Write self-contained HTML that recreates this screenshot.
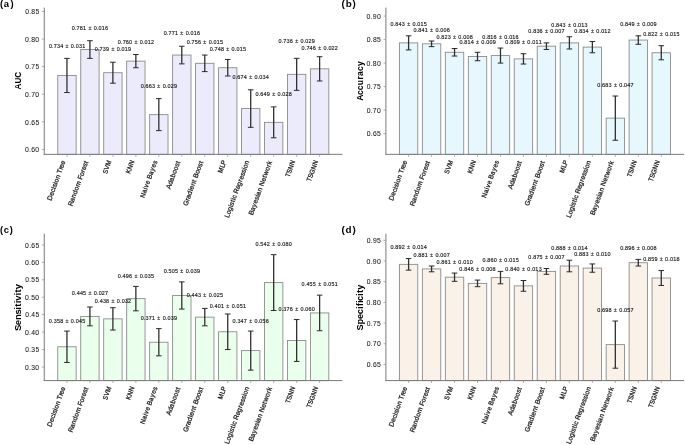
<!DOCTYPE html><html><head><meta charset="utf-8"><title>Model comparison</title><style>html,body{margin:0;padding:0;background:#fff;}svg text{stroke:#1a1a1a;stroke-width:0.15px;}svg text.b{stroke:none;}svg text.t{stroke-width:0.06px;}svg text.x{stroke-width:0.25px;}svg{display:block;will-change:transform;font-family:"Liberation Sans",sans-serif;}</style></head><body>
<svg width="685" height="445" viewBox="0 0 685 445">
<rect width="685" height="445" fill="#fff"/>
<g id="panel-a">
<rect x="57.76" y="75.46" width="18.38" height="78.89" fill="#EBEBFB" stroke="#8c8c8c" stroke-width="0.9"/>
<rect x="80.73" y="49.53" width="18.38" height="104.82" fill="#EBEBFB" stroke="#8c8c8c" stroke-width="0.9"/>
<rect x="103.7" y="72.7" width="18.38" height="81.65" fill="#EBEBFB" stroke="#8c8c8c" stroke-width="0.9"/>
<rect x="126.67" y="61.11" width="18.38" height="93.24" fill="#EBEBFB" stroke="#8c8c8c" stroke-width="0.9"/>
<rect x="149.64" y="114.63" width="18.38" height="39.72" fill="#EBEBFB" stroke="#8c8c8c" stroke-width="0.9"/>
<rect x="172.61" y="55.05" width="18.38" height="99.3" fill="#EBEBFB" stroke="#8c8c8c" stroke-width="0.9"/>
<rect x="195.58" y="63.32" width="18.38" height="91.03" fill="#EBEBFB" stroke="#8c8c8c" stroke-width="0.9"/>
<rect x="218.55" y="67.73" width="18.38" height="86.62" fill="#EBEBFB" stroke="#8c8c8c" stroke-width="0.9"/>
<rect x="241.52" y="108.56" width="18.38" height="45.79" fill="#EBEBFB" stroke="#8c8c8c" stroke-width="0.9"/>
<rect x="264.49" y="122.35" width="18.38" height="32" fill="#EBEBFB" stroke="#8c8c8c" stroke-width="0.9"/>
<rect x="287.46" y="74.35" width="18.38" height="80" fill="#EBEBFB" stroke="#8c8c8c" stroke-width="0.9"/>
<rect x="310.43" y="68.84" width="18.38" height="85.51" fill="#EBEBFB" stroke="#8c8c8c" stroke-width="0.9"/>
<line x1="66.95" y1="58.36" x2="66.95" y2="92.56" stroke="#303030" stroke-width="1.3"/>
<line x1="64.15" y1="58.36" x2="69.75" y2="58.36" stroke="#2a2a2a" stroke-width="1"/>
<line x1="64.15" y1="92.56" x2="69.75" y2="92.56" stroke="#2a2a2a" stroke-width="1"/>
<line x1="89.92" y1="40.7" x2="89.92" y2="58.36" stroke="#303030" stroke-width="1.3"/>
<line x1="87.12" y1="40.7" x2="92.72" y2="40.7" stroke="#2a2a2a" stroke-width="1"/>
<line x1="87.12" y1="58.36" x2="92.72" y2="58.36" stroke="#2a2a2a" stroke-width="1"/>
<line x1="112.89" y1="62.22" x2="112.89" y2="83.18" stroke="#303030" stroke-width="1.3"/>
<line x1="110.09" y1="62.22" x2="115.69" y2="62.22" stroke="#2a2a2a" stroke-width="1"/>
<line x1="110.09" y1="83.18" x2="115.69" y2="83.18" stroke="#2a2a2a" stroke-width="1"/>
<line x1="135.86" y1="54.49" x2="135.86" y2="67.73" stroke="#303030" stroke-width="1.3"/>
<line x1="133.06" y1="54.49" x2="138.66" y2="54.49" stroke="#2a2a2a" stroke-width="1"/>
<line x1="133.06" y1="67.73" x2="138.66" y2="67.73" stroke="#2a2a2a" stroke-width="1"/>
<line x1="158.83" y1="98.63" x2="158.83" y2="130.63" stroke="#303030" stroke-width="1.3"/>
<line x1="156.03" y1="98.63" x2="161.63" y2="98.63" stroke="#2a2a2a" stroke-width="1"/>
<line x1="156.03" y1="130.63" x2="161.63" y2="130.63" stroke="#2a2a2a" stroke-width="1"/>
<line x1="181.8" y1="46.22" x2="181.8" y2="63.87" stroke="#303030" stroke-width="1.3"/>
<line x1="179" y1="46.22" x2="184.6" y2="46.22" stroke="#2a2a2a" stroke-width="1"/>
<line x1="179" y1="63.87" x2="184.6" y2="63.87" stroke="#2a2a2a" stroke-width="1"/>
<line x1="204.77" y1="55.05" x2="204.77" y2="71.6" stroke="#303030" stroke-width="1.3"/>
<line x1="201.97" y1="55.05" x2="207.57" y2="55.05" stroke="#2a2a2a" stroke-width="1"/>
<line x1="201.97" y1="71.6" x2="207.57" y2="71.6" stroke="#2a2a2a" stroke-width="1"/>
<line x1="227.74" y1="59.46" x2="227.74" y2="76.01" stroke="#303030" stroke-width="1.3"/>
<line x1="224.94" y1="59.46" x2="230.54" y2="59.46" stroke="#2a2a2a" stroke-width="1"/>
<line x1="224.94" y1="76.01" x2="230.54" y2="76.01" stroke="#2a2a2a" stroke-width="1"/>
<line x1="250.71" y1="89.8" x2="250.71" y2="127.32" stroke="#303030" stroke-width="1.3"/>
<line x1="247.91" y1="89.8" x2="253.51" y2="89.8" stroke="#2a2a2a" stroke-width="1"/>
<line x1="247.91" y1="127.32" x2="253.51" y2="127.32" stroke="#2a2a2a" stroke-width="1"/>
<line x1="273.68" y1="106.9" x2="273.68" y2="137.8" stroke="#303030" stroke-width="1.3"/>
<line x1="270.88" y1="106.9" x2="276.48" y2="106.9" stroke="#2a2a2a" stroke-width="1"/>
<line x1="270.88" y1="137.8" x2="276.48" y2="137.8" stroke="#2a2a2a" stroke-width="1"/>
<line x1="296.65" y1="58.36" x2="296.65" y2="90.35" stroke="#303030" stroke-width="1.3"/>
<line x1="293.85" y1="58.36" x2="299.45" y2="58.36" stroke="#2a2a2a" stroke-width="1"/>
<line x1="293.85" y1="90.35" x2="299.45" y2="90.35" stroke="#2a2a2a" stroke-width="1"/>
<line x1="319.62" y1="56.7" x2="319.62" y2="80.97" stroke="#303030" stroke-width="1.3"/>
<line x1="316.82" y1="56.7" x2="322.42" y2="56.7" stroke="#2a2a2a" stroke-width="1"/>
<line x1="316.82" y1="80.97" x2="322.42" y2="80.97" stroke="#2a2a2a" stroke-width="1"/>
<line x1="44.25" y1="7.6" x2="44.25" y2="154.85" stroke="#7a7a7a" stroke-width="1"/>
<line x1="43.75" y1="154.35" x2="342.4" y2="154.35" stroke="#7a7a7a" stroke-width="1"/>
<line x1="41.85" y1="149.38" x2="44.25" y2="149.38" stroke="#999" stroke-width="0.8"/>
<text transform="translate(25.23,152.08) scale(0.994,1)" x="-0.29 3.81 5.96 10.12" y="0" font-size="6.96" class="t" fill="#1a1a1a">0.60</text>
<line x1="41.85" y1="121.8" x2="44.25" y2="121.8" stroke="#999" stroke-width="0.8"/>
<text transform="translate(25.36,124.5) scale(0.979,1)" x="-0.26 3.88 6.08 10.28" y="0" font-size="6.96" class="t" fill="#1a1a1a">0.65</text>
<line x1="41.85" y1="94.22" x2="44.25" y2="94.22" stroke="#999" stroke-width="0.8"/>
<text transform="translate(25.23,96.92) scale(0.980,1)" x="-0.26 3.88 6.07 10.29" y="0" font-size="6.96" class="t" fill="#1a1a1a">0.70</text>
<line x1="41.85" y1="66.63" x2="44.25" y2="66.63" stroke="#999" stroke-width="0.8"/>
<text transform="translate(25.36,69.33) scale(0.965,1)" x="-0.24 3.95 6.19 10.46" y="0" font-size="6.96" class="t" fill="#1a1a1a">0.75</text>
<line x1="41.85" y1="39.05" x2="44.25" y2="39.05" stroke="#999" stroke-width="0.8"/>
<text transform="translate(25.23,41.75) scale(0.988,1)" x="-0.28 3.84 6.01 10.18" y="0" font-size="6.96" class="t" fill="#1a1a1a">0.80</text>
<line x1="41.85" y1="11.46" x2="44.25" y2="11.46" stroke="#999" stroke-width="0.8"/>
<text transform="translate(25.36,14.16) scale(0.974,1)" x="-0.25 3.91 6.12 10.35" y="0" font-size="6.96" class="t" fill="#1a1a1a">0.85</text>
<line x1="66.95" y1="154.35" x2="66.95" y2="156.75" stroke="#999" stroke-width="0.8"/>
<text transform="translate(51.48,200.39) rotate(-70) scale(0.986,1)" x="-0.63 4.38 8.21 11.89 13.53 17 18.69 22.69 26.67 28.51 32.84 34.31 38.11" y="0" font-size="6.83" class="x" fill="#1a1a1a">Decision Tree</text>
<line x1="89.92" y1="154.35" x2="89.92" y2="156.75" stroke="#999" stroke-width="0.8"/>
<text transform="translate(72.51,205.71) rotate(-70) scale(0.986,1)" x="-0.77 3.64 7.74 11.75 15.77 19.91 25.93 27.63 31.63 35.56 37.97 41.69 45.31" y="0" font-size="6.83" class="x" fill="#1a1a1a">Random Forest</text>
<line x1="112.89" y1="154.35" x2="112.89" y2="156.75" stroke="#999" stroke-width="0.8"/>
<text transform="translate(107.09,173.81) rotate(-70) scale(0.895,1)" x="-0.46 4.14 9.03" y="0" font-size="6.83" class="x" fill="#1a1a1a">SVM</text>
<line x1="135.86" y1="154.35" x2="135.86" y2="156.75" stroke="#999" stroke-width="0.8"/>
<text transform="translate(130.2,173.44) rotate(-70) scale(0.921,1)" x="-0.54 3.92 9.04" y="0" font-size="6.83" class="x" fill="#1a1a1a">KNN</text>
<line x1="158.83" y1="154.35" x2="158.83" y2="156.75" stroke="#999" stroke-width="0.8"/>
<text transform="translate(144.35,197.65) rotate(-70) scale(0.929,1)" x="-0.59 4.35 8.77 10.77 14.68 18.79 20.85 25.4 29.94 33.85 37.94" y="0" font-size="6.83" class="x" fill="#1a1a1a">Naive Bayes</text>
<line x1="181.8" y1="154.35" x2="181.8" y2="156.75" stroke="#999" stroke-width="0.8"/>
<text transform="translate(170.33,189.4) rotate(-70) scale(0.981,1)" x="-0.13 4.45 8.14 12.42 16.39 20.32 24.2 27.83" y="0" font-size="6.83" class="x" fill="#1a1a1a">Adaboost</text>
<line x1="204.77" y1="154.35" x2="204.77" y2="156.75" stroke="#999" stroke-width="0.8"/>
<text transform="translate(187.34,205.77) rotate(-70) scale(1.006,1)" x="-0.57 4.78 6.87 10.99 15.03 16.7 20.61 24.75 26.99 28.79 33.26 37.09 40.88 44.44" y="0" font-size="6.83" class="x" fill="#1a1a1a">Gradient Boost</text>
<line x1="227.74" y1="154.35" x2="227.74" y2="156.75" stroke="#999" stroke-width="0.8"/>
<text transform="translate(222.22,173.05) rotate(-70) scale(0.900,1)" x="-0.5 5.58 9.23" y="0" font-size="6.83" class="x" fill="#1a1a1a">MLP</text>
<line x1="250.71" y1="154.35" x2="250.71" y2="156.75" stroke="#999" stroke-width="0.8"/>
<text transform="translate(228.97,217.61) rotate(-70) scale(0.980,1)" x="-0.6 3.02 6.88 11 12.66 16.29 18.66 20.29 23.91 25.75 30.44 34.12 38.41 40.84 44.58 47.93 51.4 53.12 57.13" y="0" font-size="6.83" class="x" fill="#1a1a1a">Logistic Regression</text>
<line x1="273.68" y1="154.35" x2="273.68" y2="156.75" stroke="#999" stroke-width="0.8"/>
<text transform="translate(252.95,214.82) rotate(-70) scale(0.977,1)" x="-0.71 3.63 7.96 11.67 15.57 19.05 20.53 24.81 28.82 30.74 35.72 39.9 42.3 47.48 51.67 54.22" y="0" font-size="6.83" class="x" fill="#1a1a1a">Bayesian Network</text>
<line x1="296.65" y1="154.35" x2="296.65" y2="156.75" stroke="#999" stroke-width="0.8"/>
<text transform="translate(289.5,177.51) rotate(-70) scale(0.916,1)" x="0.04 4.16 8.7 13.84" y="0" font-size="6.83" class="x" fill="#1a1a1a">TSNN</text>
<line x1="319.62" y1="154.35" x2="319.62" y2="156.75" stroke="#999" stroke-width="0.8"/>
<text transform="translate(310.8,182.1) rotate(-70) scale(0.913,1)" x="0.05 4.18 8.63 14.08 19.24" y="0" font-size="6.83" class="x" fill="#1a1a1a">TSGNN</text>
<text transform="translate(49.1,47.6) scale(0.968,1)" x="-0.23 3.05 4.77 8.11 11.43 14.71 16.98 20.76 22.48 25.76 27.47 30.82 34.12" y="0" font-size="5.56" fill="#1a1a1a">0.734 ± 0.031</text>
<text transform="translate(72,29.7) scale(0.974,1)" x="-0.24 3.03 4.73 8.05 11.34 14.62 16.87 20.63 22.34 25.6 27.3 30.6 33.93" y="0" font-size="5.56" fill="#1a1a1a">0.781 ± 0.016</text>
<text transform="translate(94.99,51.2) scale(0.977,1)" x="-0.24 3.02 4.71 8.03 11.3 14.57 16.82 20.57 22.27 25.53 27.22 30.51 33.81" y="0" font-size="5.56" fill="#1a1a1a">0.739 ± 0.019</text>
<text transform="translate(118.03,43.9) scale(0.975,1)" x="-0.24 3.02 4.72 8.04 11.34 14.6 16.85 20.62 22.32 25.58 27.28 30.57 33.84" y="0" font-size="5.56" fill="#1a1a1a">0.760 ± 0.012</text>
<text transform="translate(140.93,87.8) scale(0.983,1)" x="-0.25 2.99 4.68 7.96 11.25 14.48 16.7 20.44 22.12 25.36 27.04 30.26 33.58" y="0" font-size="5.56" fill="#1a1a1a">0.663 ± 0.029</text>
<text transform="translate(163.88,35.2) scale(0.971,1)" x="-0.23 3.04 4.75 8.07 11.38 14.67 16.92 20.7 22.41 25.68 27.39 30.7 34.04" y="0" font-size="5.56" fill="#1a1a1a">0.771 ± 0.016</text>
<text transform="translate(186.9,43.9) scale(0.967,1)" x="-0.23 3.05 4.77 8.09 11.45 14.72 16.99 20.78 22.5 25.78 27.5 30.82 34.16" y="0" font-size="5.56" fill="#1a1a1a">0.756 ± 0.015</text>
<text transform="translate(209.87,50.7) scale(0.970,1)" x="-0.23 3.04 4.75 8.08 11.41 14.67 16.94 20.71 22.42 25.7 27.41 30.71 34.04" y="0" font-size="5.56" fill="#1a1a1a">0.748 ± 0.015</text>
<text transform="translate(232.77,78.9) scale(0.978,1)" x="-0.24 3.01 4.71 8 11.3 14.55 16.79 20.54 22.24 25.49 27.18 30.49 33.78" y="0" font-size="5.56" fill="#1a1a1a">0.674 ± 0.034</text>
<text transform="translate(255.77,95.7) scale(0.984,1)" x="-0.25 2.99 4.67 7.94 11.2 14.46 16.68 20.41 22.09 25.32 27 30.22 33.56" y="0" font-size="5.56" fill="#1a1a1a">0.649 ± 0.028</text>
<text transform="translate(278.75,42.7) scale(0.978,1)" x="-0.24 3.01 4.7 8.02 11.31 14.55 16.79 20.54 22.24 25.49 27.18 30.42 33.76" y="0" font-size="5.56" fill="#1a1a1a">0.736 ± 0.029</text>
<text transform="translate(301.79,50.2) scale(0.976,1)" x="-0.24 3.02 4.72 8.02 11.33 14.59 16.83 20.59 22.29 25.55 27.25 30.49 33.8" y="0" font-size="5.56" fill="#1a1a1a">0.746 ± 0.022</text>
<text transform="translate(20.85,89.63) rotate(-90) scale(0.984,1)" x="0.05 6.33 12.1" y="0" font-size="8.27" font-weight="bold" class="b" fill="#000">AUC</text>
<text transform="translate(0.35,6.7) scale(1.062,1)" x="-0.45 3.29 9.64" y="0" font-size="8.92" font-weight="bold" class="b" fill="#000">(a)</text>
</g>
<g id="panel-b">
<rect x="399.41" y="42.88" width="18.38" height="111.47" fill="#E6F7FD" stroke="#8c8c8c" stroke-width="0.9"/>
<rect x="422.38" y="43.82" width="18.38" height="110.53" fill="#E6F7FD" stroke="#8c8c8c" stroke-width="0.9"/>
<rect x="445.35" y="52.28" width="18.38" height="102.07" fill="#E6F7FD" stroke="#8c8c8c" stroke-width="0.9"/>
<rect x="468.32" y="56.52" width="18.38" height="97.83" fill="#E6F7FD" stroke="#8c8c8c" stroke-width="0.9"/>
<rect x="491.29" y="55.58" width="18.38" height="98.77" fill="#E6F7FD" stroke="#8c8c8c" stroke-width="0.9"/>
<rect x="514.26" y="58.87" width="18.38" height="95.48" fill="#E6F7FD" stroke="#8c8c8c" stroke-width="0.9"/>
<rect x="537.23" y="46.17" width="18.38" height="108.18" fill="#E6F7FD" stroke="#8c8c8c" stroke-width="0.9"/>
<rect x="560.2" y="42.88" width="18.38" height="111.47" fill="#E6F7FD" stroke="#8c8c8c" stroke-width="0.9"/>
<rect x="583.17" y="47.11" width="18.38" height="107.24" fill="#E6F7FD" stroke="#8c8c8c" stroke-width="0.9"/>
<rect x="606.14" y="118.13" width="18.38" height="36.22" fill="#E6F7FD" stroke="#8c8c8c" stroke-width="0.9"/>
<rect x="629.11" y="40.05" width="18.38" height="114.3" fill="#E6F7FD" stroke="#8c8c8c" stroke-width="0.9"/>
<rect x="652.08" y="52.75" width="18.38" height="101.6" fill="#E6F7FD" stroke="#8c8c8c" stroke-width="0.9"/>
<line x1="408.6" y1="35.82" x2="408.6" y2="49.93" stroke="#303030" stroke-width="1.3"/>
<line x1="405.8" y1="35.82" x2="411.4" y2="35.82" stroke="#2a2a2a" stroke-width="1"/>
<line x1="405.8" y1="49.93" x2="411.4" y2="49.93" stroke="#2a2a2a" stroke-width="1"/>
<line x1="431.57" y1="41" x2="431.57" y2="46.64" stroke="#303030" stroke-width="1.3"/>
<line x1="428.77" y1="41" x2="434.37" y2="41" stroke="#2a2a2a" stroke-width="1"/>
<line x1="428.77" y1="46.64" x2="434.37" y2="46.64" stroke="#2a2a2a" stroke-width="1"/>
<line x1="454.54" y1="48.52" x2="454.54" y2="56.05" stroke="#303030" stroke-width="1.3"/>
<line x1="451.74" y1="48.52" x2="457.34" y2="48.52" stroke="#2a2a2a" stroke-width="1"/>
<line x1="451.74" y1="56.05" x2="457.34" y2="56.05" stroke="#2a2a2a" stroke-width="1"/>
<line x1="477.51" y1="52.28" x2="477.51" y2="60.75" stroke="#303030" stroke-width="1.3"/>
<line x1="474.71" y1="52.28" x2="480.31" y2="52.28" stroke="#2a2a2a" stroke-width="1"/>
<line x1="474.71" y1="60.75" x2="480.31" y2="60.75" stroke="#2a2a2a" stroke-width="1"/>
<line x1="500.48" y1="48.05" x2="500.48" y2="63.1" stroke="#303030" stroke-width="1.3"/>
<line x1="497.68" y1="48.05" x2="503.28" y2="48.05" stroke="#2a2a2a" stroke-width="1"/>
<line x1="497.68" y1="63.1" x2="503.28" y2="63.1" stroke="#2a2a2a" stroke-width="1"/>
<line x1="523.45" y1="53.69" x2="523.45" y2="64.04" stroke="#303030" stroke-width="1.3"/>
<line x1="520.65" y1="53.69" x2="526.25" y2="53.69" stroke="#2a2a2a" stroke-width="1"/>
<line x1="520.65" y1="64.04" x2="526.25" y2="64.04" stroke="#2a2a2a" stroke-width="1"/>
<line x1="546.42" y1="42.88" x2="546.42" y2="49.46" stroke="#303030" stroke-width="1.3"/>
<line x1="543.62" y1="42.88" x2="549.22" y2="42.88" stroke="#2a2a2a" stroke-width="1"/>
<line x1="543.62" y1="49.46" x2="549.22" y2="49.46" stroke="#2a2a2a" stroke-width="1"/>
<line x1="569.39" y1="36.76" x2="569.39" y2="48.99" stroke="#303030" stroke-width="1.3"/>
<line x1="566.59" y1="36.76" x2="572.19" y2="36.76" stroke="#2a2a2a" stroke-width="1"/>
<line x1="566.59" y1="48.99" x2="572.19" y2="48.99" stroke="#2a2a2a" stroke-width="1"/>
<line x1="592.36" y1="41.47" x2="592.36" y2="52.75" stroke="#303030" stroke-width="1.3"/>
<line x1="589.56" y1="41.47" x2="595.16" y2="41.47" stroke="#2a2a2a" stroke-width="1"/>
<line x1="589.56" y1="52.75" x2="595.16" y2="52.75" stroke="#2a2a2a" stroke-width="1"/>
<line x1="615.33" y1="96.03" x2="615.33" y2="140.24" stroke="#303030" stroke-width="1.3"/>
<line x1="612.53" y1="96.03" x2="618.13" y2="96.03" stroke="#2a2a2a" stroke-width="1"/>
<line x1="612.53" y1="140.24" x2="618.13" y2="140.24" stroke="#2a2a2a" stroke-width="1"/>
<line x1="638.3" y1="35.82" x2="638.3" y2="44.29" stroke="#303030" stroke-width="1.3"/>
<line x1="635.5" y1="35.82" x2="641.1" y2="35.82" stroke="#2a2a2a" stroke-width="1"/>
<line x1="635.5" y1="44.29" x2="641.1" y2="44.29" stroke="#2a2a2a" stroke-width="1"/>
<line x1="661.27" y1="45.7" x2="661.27" y2="59.81" stroke="#303030" stroke-width="1.3"/>
<line x1="658.47" y1="45.7" x2="664.07" y2="45.7" stroke="#2a2a2a" stroke-width="1"/>
<line x1="658.47" y1="59.81" x2="664.07" y2="59.81" stroke="#2a2a2a" stroke-width="1"/>
<line x1="385.9" y1="7.6" x2="385.9" y2="154.85" stroke="#7a7a7a" stroke-width="1"/>
<line x1="385.4" y1="154.35" x2="684.05" y2="154.35" stroke="#7a7a7a" stroke-width="1"/>
<line x1="383.5" y1="133.65" x2="385.9" y2="133.65" stroke="#999" stroke-width="0.8"/>
<text transform="translate(367.01,136.35) scale(0.979,1)" x="-0.26 3.88 6.08 10.28" y="0" font-size="6.96" class="t" fill="#1a1a1a">0.65</text>
<line x1="383.5" y1="110.14" x2="385.9" y2="110.14" stroke="#999" stroke-width="0.8"/>
<text transform="translate(366.88,112.84) scale(0.980,1)" x="-0.26 3.88 6.07 10.29" y="0" font-size="6.96" class="t" fill="#1a1a1a">0.70</text>
<line x1="383.5" y1="86.62" x2="385.9" y2="86.62" stroke="#999" stroke-width="0.8"/>
<text transform="translate(367.01,89.32) scale(0.965,1)" x="-0.24 3.95 6.19 10.46" y="0" font-size="6.96" class="t" fill="#1a1a1a">0.75</text>
<line x1="383.5" y1="63.1" x2="385.9" y2="63.1" stroke="#999" stroke-width="0.8"/>
<text transform="translate(366.88,65.8) scale(0.988,1)" x="-0.28 3.84 6.01 10.18" y="0" font-size="6.96" class="t" fill="#1a1a1a">0.80</text>
<line x1="383.5" y1="39.58" x2="385.9" y2="39.58" stroke="#999" stroke-width="0.8"/>
<text transform="translate(367.01,42.28) scale(0.974,1)" x="-0.25 3.91 6.12 10.35" y="0" font-size="6.96" class="t" fill="#1a1a1a">0.85</text>
<line x1="383.5" y1="16.07" x2="385.9" y2="16.07" stroke="#999" stroke-width="0.8"/>
<text transform="translate(366.88,18.77) scale(0.994,1)" x="-0.29 3.81 5.93 10.12" y="0" font-size="6.96" class="t" fill="#1a1a1a">0.90</text>
<line x1="408.6" y1="154.35" x2="408.6" y2="156.75" stroke="#999" stroke-width="0.8"/>
<text transform="translate(393.13,200.39) rotate(-70) scale(0.986,1)" x="-0.63 4.38 8.21 11.89 13.53 17 18.69 22.69 26.67 28.51 32.84 34.31 38.11" y="0" font-size="6.83" class="x" fill="#1a1a1a">Decision Tree</text>
<line x1="431.57" y1="154.35" x2="431.57" y2="156.75" stroke="#999" stroke-width="0.8"/>
<text transform="translate(414.16,205.71) rotate(-70) scale(0.986,1)" x="-0.77 3.64 7.74 11.75 15.77 19.91 25.93 27.63 31.63 35.56 37.97 41.69 45.31" y="0" font-size="6.83" class="x" fill="#1a1a1a">Random Forest</text>
<line x1="454.54" y1="154.35" x2="454.54" y2="156.75" stroke="#999" stroke-width="0.8"/>
<text transform="translate(448.74,173.81) rotate(-70) scale(0.895,1)" x="-0.46 4.14 9.03" y="0" font-size="6.83" class="x" fill="#1a1a1a">SVM</text>
<line x1="477.51" y1="154.35" x2="477.51" y2="156.75" stroke="#999" stroke-width="0.8"/>
<text transform="translate(471.85,173.44) rotate(-70) scale(0.921,1)" x="-0.54 3.92 9.04" y="0" font-size="6.83" class="x" fill="#1a1a1a">KNN</text>
<line x1="500.48" y1="154.35" x2="500.48" y2="156.75" stroke="#999" stroke-width="0.8"/>
<text transform="translate(486,197.65) rotate(-70) scale(0.929,1)" x="-0.59 4.35 8.77 10.77 14.68 18.79 20.85 25.4 29.94 33.85 37.94" y="0" font-size="6.83" class="x" fill="#1a1a1a">Naive Bayes</text>
<line x1="523.45" y1="154.35" x2="523.45" y2="156.75" stroke="#999" stroke-width="0.8"/>
<text transform="translate(511.98,189.4) rotate(-70) scale(0.981,1)" x="-0.13 4.45 8.14 12.42 16.39 20.32 24.2 27.83" y="0" font-size="6.83" class="x" fill="#1a1a1a">Adaboost</text>
<line x1="546.42" y1="154.35" x2="546.42" y2="156.75" stroke="#999" stroke-width="0.8"/>
<text transform="translate(528.99,205.77) rotate(-70) scale(1.006,1)" x="-0.57 4.78 6.87 10.99 15.03 16.7 20.61 24.75 26.99 28.79 33.26 37.09 40.88 44.44" y="0" font-size="6.83" class="x" fill="#1a1a1a">Gradient Boost</text>
<line x1="569.39" y1="154.35" x2="569.39" y2="156.75" stroke="#999" stroke-width="0.8"/>
<text transform="translate(563.87,173.05) rotate(-70) scale(0.900,1)" x="-0.5 5.58 9.23" y="0" font-size="6.83" class="x" fill="#1a1a1a">MLP</text>
<line x1="592.36" y1="154.35" x2="592.36" y2="156.75" stroke="#999" stroke-width="0.8"/>
<text transform="translate(570.62,217.61) rotate(-70) scale(0.980,1)" x="-0.6 3.02 6.88 11 12.66 16.29 18.66 20.29 23.91 25.75 30.44 34.12 38.41 40.84 44.58 47.93 51.4 53.12 57.13" y="0" font-size="6.83" class="x" fill="#1a1a1a">Logistic Regression</text>
<line x1="615.33" y1="154.35" x2="615.33" y2="156.75" stroke="#999" stroke-width="0.8"/>
<text transform="translate(594.6,214.82) rotate(-70) scale(0.977,1)" x="-0.71 3.63 7.96 11.67 15.57 19.05 20.53 24.81 28.82 30.74 35.72 39.9 42.3 47.48 51.67 54.22" y="0" font-size="6.83" class="x" fill="#1a1a1a">Bayesian Network</text>
<line x1="638.3" y1="154.35" x2="638.3" y2="156.75" stroke="#999" stroke-width="0.8"/>
<text transform="translate(631.15,177.51) rotate(-70) scale(0.916,1)" x="0.04 4.16 8.7 13.84" y="0" font-size="6.83" class="x" fill="#1a1a1a">TSNN</text>
<line x1="661.27" y1="154.35" x2="661.27" y2="156.75" stroke="#999" stroke-width="0.8"/>
<text transform="translate(652.45,182.1) rotate(-70) scale(0.913,1)" x="0.05 4.18 8.63 14.08 19.24" y="0" font-size="6.83" class="x" fill="#1a1a1a">TSGNN</text>
<text transform="translate(390.73,26.4) scale(0.970,1)" x="-0.23 3.05 4.77 8.09 11.43 14.69 16.95 20.73 22.45 25.72 27.44 30.75 34.08" y="0" font-size="5.56" fill="#1a1a1a">0.843 ± 0.015</text>
<text transform="translate(413.65,31.5) scale(0.981,1)" x="-0.25 3 4.69 7.98 11.25 14.52 16.74 20.49 22.18 25.42 27.11 30.4 33.69" y="0" font-size="5.56" fill="#1a1a1a">0.841 ± 0.006</text>
<text transform="translate(436.63,39) scale(0.977,1)" x="-0.24 3.02 4.72 7.96 11.33 14.57 16.81 20.57 22.27 25.52 27.22 30.52 33.83" y="0" font-size="5.56" fill="#1a1a1a">0.823 ± 0.008</text>
<text transform="translate(459.61,44.1) scale(0.981,1)" x="-0.25 3 4.69 7.96 11.27 14.52 16.74 20.49 22.18 25.42 27.11 30.4 33.67" y="0" font-size="5.56" fill="#1a1a1a">0.814 ± 0.009</text>
<text transform="translate(482.56,38.5) scale(0.979,1)" x="-0.24 3.01 4.71 7.98 11.29 14.54 16.78 20.53 22.22 25.47 27.16 30.44 33.75" y="0" font-size="5.56" fill="#1a1a1a">0.816 ± 0.016</text>
<text transform="translate(505.6,44.1) scale(0.977,1)" x="-0.24 3.02 4.72 8.02 11.3 14.58 16.82 20.58 22.27 25.53 27.23 30.51 33.82" y="0" font-size="5.56" fill="#1a1a1a">0.809 ± 0.011</text>
<text transform="translate(528.55,33.4) scale(0.979,1)" x="-0.24 3.01 4.7 8.01 11.29 14.54 16.77 20.52 22.21 25.46 27.15 30.45 33.74" y="0" font-size="5.56" fill="#1a1a1a">0.836 ± 0.007</text>
<text transform="translate(551.51,27.3) scale(0.971,1)" x="-0.23 3.04 4.75 8.07 11.4 14.66 16.92 20.7 22.4 25.68 27.38 30.69 34.04" y="0" font-size="5.56" fill="#1a1a1a">0.843 ± 0.013</text>
<text transform="translate(574.53,33.4) scale(0.972,1)" x="-0.23 3.04 4.75 8.08 11.38 14.65 16.91 20.68 22.39 25.66 27.37 30.67 33.95" y="0" font-size="5.56" fill="#1a1a1a">0.834 ± 0.012</text>
<text transform="translate(597.46,87.1) scale(0.979,1)" x="-0.24 3.01 4.7 8 11.3 14.54 16.78 20.53 22.22 25.47 27.16 30.46 33.75" y="0" font-size="5.56" fill="#1a1a1a">0.683 ± 0.047</text>
<text transform="translate(620.4,26.4) scale(0.987,1)" x="-0.25 2.98 4.65 7.91 11.16 14.41 16.62 20.35 22.02 25.25 26.92 30.18 33.43" y="0" font-size="5.56" fill="#1a1a1a">0.849 ± 0.009</text>
<text transform="translate(643.4,36.2) scale(0.967,1)" x="-0.23 3.05 4.78 8.05 11.38 14.72 17 20.78 22.5 25.78 27.5 30.82 34.16" y="0" font-size="5.56" fill="#1a1a1a">0.822 ± 0.015</text>
<text transform="translate(362.5,100.71) rotate(-90) scale(1.032,1)" x="-0.09 5.61 10.09 14.93 20.5 23.85 28.78 33.6" y="0" font-size="8.27" font-weight="bold" class="b" fill="#000">Accuracy</text>
<text transform="translate(342,6.7) scale(1.103,1)" x="-0.5 3.34 9.57" y="0" font-size="8.92" font-weight="bold" class="b" fill="#000">(b)</text>
</g>
<g id="panel-c">
<rect x="57.76" y="346.77" width="18.38" height="33.83" fill="#EAFFEC" stroke="#8c8c8c" stroke-width="0.9"/>
<rect x="80.73" y="316.42" width="18.38" height="64.18" fill="#EAFFEC" stroke="#8c8c8c" stroke-width="0.9"/>
<rect x="103.7" y="318.86" width="18.38" height="61.74" fill="#EAFFEC" stroke="#8c8c8c" stroke-width="0.9"/>
<rect x="126.67" y="298.63" width="18.38" height="81.97" fill="#EAFFEC" stroke="#8c8c8c" stroke-width="0.9"/>
<rect x="149.64" y="342.23" width="18.38" height="38.37" fill="#EAFFEC" stroke="#8c8c8c" stroke-width="0.9"/>
<rect x="172.61" y="295.49" width="18.38" height="85.11" fill="#EAFFEC" stroke="#8c8c8c" stroke-width="0.9"/>
<rect x="195.58" y="317.12" width="18.38" height="63.48" fill="#EAFFEC" stroke="#8c8c8c" stroke-width="0.9"/>
<rect x="218.55" y="331.77" width="18.38" height="48.83" fill="#EAFFEC" stroke="#8c8c8c" stroke-width="0.9"/>
<rect x="241.52" y="350.6" width="18.38" height="30" fill="#EAFFEC" stroke="#8c8c8c" stroke-width="0.9"/>
<rect x="264.49" y="282.58" width="18.38" height="98.02" fill="#EAFFEC" stroke="#8c8c8c" stroke-width="0.9"/>
<rect x="287.46" y="340.49" width="18.38" height="40.11" fill="#EAFFEC" stroke="#8c8c8c" stroke-width="0.9"/>
<rect x="310.43" y="312.93" width="18.38" height="67.67" fill="#EAFFEC" stroke="#8c8c8c" stroke-width="0.9"/>
<line x1="66.95" y1="331.07" x2="66.95" y2="362.46" stroke="#303030" stroke-width="1.3"/>
<line x1="64.15" y1="331.07" x2="69.75" y2="331.07" stroke="#2a2a2a" stroke-width="1"/>
<line x1="64.15" y1="362.46" x2="69.75" y2="362.46" stroke="#2a2a2a" stroke-width="1"/>
<line x1="89.92" y1="307" x2="89.92" y2="325.84" stroke="#303030" stroke-width="1.3"/>
<line x1="87.12" y1="307" x2="92.72" y2="307" stroke="#2a2a2a" stroke-width="1"/>
<line x1="87.12" y1="325.84" x2="92.72" y2="325.84" stroke="#2a2a2a" stroke-width="1"/>
<line x1="112.89" y1="307.7" x2="112.89" y2="330.02" stroke="#303030" stroke-width="1.3"/>
<line x1="110.09" y1="307.7" x2="115.69" y2="307.7" stroke="#2a2a2a" stroke-width="1"/>
<line x1="110.09" y1="330.02" x2="115.69" y2="330.02" stroke="#2a2a2a" stroke-width="1"/>
<line x1="135.86" y1="286.42" x2="135.86" y2="310.84" stroke="#303030" stroke-width="1.3"/>
<line x1="133.06" y1="286.42" x2="138.66" y2="286.42" stroke="#2a2a2a" stroke-width="1"/>
<line x1="133.06" y1="310.84" x2="138.66" y2="310.84" stroke="#2a2a2a" stroke-width="1"/>
<line x1="158.83" y1="328.63" x2="158.83" y2="355.83" stroke="#303030" stroke-width="1.3"/>
<line x1="156.03" y1="328.63" x2="161.63" y2="328.63" stroke="#2a2a2a" stroke-width="1"/>
<line x1="156.03" y1="355.83" x2="161.63" y2="355.83" stroke="#2a2a2a" stroke-width="1"/>
<line x1="181.8" y1="281.89" x2="181.8" y2="309.09" stroke="#303030" stroke-width="1.3"/>
<line x1="179" y1="281.89" x2="184.6" y2="281.89" stroke="#2a2a2a" stroke-width="1"/>
<line x1="179" y1="309.09" x2="184.6" y2="309.09" stroke="#2a2a2a" stroke-width="1"/>
<line x1="204.77" y1="308.4" x2="204.77" y2="325.84" stroke="#303030" stroke-width="1.3"/>
<line x1="201.97" y1="308.4" x2="207.57" y2="308.4" stroke="#2a2a2a" stroke-width="1"/>
<line x1="201.97" y1="325.84" x2="207.57" y2="325.84" stroke="#2a2a2a" stroke-width="1"/>
<line x1="227.74" y1="313.98" x2="227.74" y2="349.56" stroke="#303030" stroke-width="1.3"/>
<line x1="224.94" y1="313.98" x2="230.54" y2="313.98" stroke="#2a2a2a" stroke-width="1"/>
<line x1="224.94" y1="349.56" x2="230.54" y2="349.56" stroke="#2a2a2a" stroke-width="1"/>
<line x1="250.71" y1="331.07" x2="250.71" y2="370.14" stroke="#303030" stroke-width="1.3"/>
<line x1="247.91" y1="331.07" x2="253.51" y2="331.07" stroke="#2a2a2a" stroke-width="1"/>
<line x1="247.91" y1="370.14" x2="253.51" y2="370.14" stroke="#2a2a2a" stroke-width="1"/>
<line x1="273.68" y1="254.68" x2="273.68" y2="310.49" stroke="#303030" stroke-width="1.3"/>
<line x1="270.88" y1="254.68" x2="276.48" y2="254.68" stroke="#2a2a2a" stroke-width="1"/>
<line x1="270.88" y1="310.49" x2="276.48" y2="310.49" stroke="#2a2a2a" stroke-width="1"/>
<line x1="296.65" y1="319.56" x2="296.65" y2="361.42" stroke="#303030" stroke-width="1.3"/>
<line x1="293.85" y1="319.56" x2="299.45" y2="319.56" stroke="#2a2a2a" stroke-width="1"/>
<line x1="293.85" y1="361.42" x2="299.45" y2="361.42" stroke="#2a2a2a" stroke-width="1"/>
<line x1="319.62" y1="295.14" x2="319.62" y2="330.72" stroke="#303030" stroke-width="1.3"/>
<line x1="316.82" y1="295.14" x2="322.42" y2="295.14" stroke="#2a2a2a" stroke-width="1"/>
<line x1="316.82" y1="330.72" x2="322.42" y2="330.72" stroke="#2a2a2a" stroke-width="1"/>
<line x1="44.25" y1="233.75" x2="44.25" y2="381.1" stroke="#7a7a7a" stroke-width="1"/>
<line x1="43.75" y1="380.6" x2="342.4" y2="380.6" stroke="#7a7a7a" stroke-width="1"/>
<line x1="41.85" y1="367" x2="44.25" y2="367" stroke="#999" stroke-width="0.8"/>
<text transform="translate(25.23,369.7) scale(0.977,1)" x="-0.26 3.89 6.11 10.32" y="0" font-size="6.96" class="t" fill="#1a1a1a">0.30</text>
<line x1="41.85" y1="349.56" x2="44.25" y2="349.56" stroke="#999" stroke-width="0.8"/>
<text transform="translate(25.36,352.26) scale(0.962,1)" x="-0.23 3.96 6.23 10.49" y="0" font-size="6.96" class="t" fill="#1a1a1a">0.35</text>
<line x1="41.85" y1="332.12" x2="44.25" y2="332.12" stroke="#999" stroke-width="0.8"/>
<text transform="translate(25.23,334.82) scale(0.986,1)" x="-0.27 3.85 6.02 10.21" y="0" font-size="6.96" class="t" fill="#1a1a1a">0.40</text>
<line x1="41.85" y1="314.67" x2="44.25" y2="314.67" stroke="#999" stroke-width="0.8"/>
<text transform="translate(25.36,317.37) scale(0.972,1)" x="-0.25 3.92 6.14 10.37" y="0" font-size="6.96" class="t" fill="#1a1a1a">0.45</text>
<line x1="41.85" y1="297.23" x2="44.25" y2="297.23" stroke="#999" stroke-width="0.8"/>
<text transform="translate(25.23,299.93) scale(0.972,1)" x="-0.25 3.92 6.11 10.38" y="0" font-size="6.96" class="t" fill="#1a1a1a">0.50</text>
<line x1="41.85" y1="279.79" x2="44.25" y2="279.79" stroke="#999" stroke-width="0.8"/>
<text transform="translate(25.36,282.49) scale(0.958,1)" x="-0.22 3.99 6.24 10.55" y="0" font-size="6.96" class="t" fill="#1a1a1a">0.55</text>
<line x1="41.85" y1="262.35" x2="44.25" y2="262.35" stroke="#999" stroke-width="0.8"/>
<text transform="translate(25.23,265.05) scale(0.994,1)" x="-0.29 3.81 5.96 10.12" y="0" font-size="6.96" class="t" fill="#1a1a1a">0.60</text>
<line x1="41.85" y1="244.91" x2="44.25" y2="244.91" stroke="#999" stroke-width="0.8"/>
<text transform="translate(25.36,247.61) scale(0.979,1)" x="-0.26 3.88 6.08 10.28" y="0" font-size="6.96" class="t" fill="#1a1a1a">0.65</text>
<line x1="66.95" y1="380.6" x2="66.95" y2="383" stroke="#999" stroke-width="0.8"/>
<text transform="translate(51.48,426.64) rotate(-70) scale(0.986,1)" x="-0.63 4.38 8.21 11.89 13.53 17 18.69 22.69 26.67 28.51 32.84 34.31 38.11" y="0" font-size="6.83" class="x" fill="#1a1a1a">Decision Tree</text>
<line x1="89.92" y1="380.6" x2="89.92" y2="383" stroke="#999" stroke-width="0.8"/>
<text transform="translate(72.51,431.96) rotate(-70) scale(0.986,1)" x="-0.77 3.64 7.74 11.75 15.77 19.91 25.93 27.63 31.63 35.56 37.97 41.69 45.31" y="0" font-size="6.83" class="x" fill="#1a1a1a">Random Forest</text>
<line x1="112.89" y1="380.6" x2="112.89" y2="383" stroke="#999" stroke-width="0.8"/>
<text transform="translate(107.09,400.06) rotate(-70) scale(0.895,1)" x="-0.46 4.14 9.03" y="0" font-size="6.83" class="x" fill="#1a1a1a">SVM</text>
<line x1="135.86" y1="380.6" x2="135.86" y2="383" stroke="#999" stroke-width="0.8"/>
<text transform="translate(130.2,399.69) rotate(-70) scale(0.921,1)" x="-0.54 3.92 9.04" y="0" font-size="6.83" class="x" fill="#1a1a1a">KNN</text>
<line x1="158.83" y1="380.6" x2="158.83" y2="383" stroke="#999" stroke-width="0.8"/>
<text transform="translate(144.35,423.9) rotate(-70) scale(0.929,1)" x="-0.59 4.35 8.77 10.77 14.68 18.79 20.85 25.4 29.94 33.85 37.94" y="0" font-size="6.83" class="x" fill="#1a1a1a">Naive Bayes</text>
<line x1="181.8" y1="380.6" x2="181.8" y2="383" stroke="#999" stroke-width="0.8"/>
<text transform="translate(170.33,415.65) rotate(-70) scale(0.981,1)" x="-0.13 4.45 8.14 12.42 16.39 20.32 24.2 27.83" y="0" font-size="6.83" class="x" fill="#1a1a1a">Adaboost</text>
<line x1="204.77" y1="380.6" x2="204.77" y2="383" stroke="#999" stroke-width="0.8"/>
<text transform="translate(187.34,432.02) rotate(-70) scale(1.006,1)" x="-0.57 4.78 6.87 10.99 15.03 16.7 20.61 24.75 26.99 28.79 33.26 37.09 40.88 44.44" y="0" font-size="6.83" class="x" fill="#1a1a1a">Gradient Boost</text>
<line x1="227.74" y1="380.6" x2="227.74" y2="383" stroke="#999" stroke-width="0.8"/>
<text transform="translate(222.22,399.3) rotate(-70) scale(0.900,1)" x="-0.5 5.58 9.23" y="0" font-size="6.83" class="x" fill="#1a1a1a">MLP</text>
<line x1="250.71" y1="380.6" x2="250.71" y2="383" stroke="#999" stroke-width="0.8"/>
<text transform="translate(228.97,443.86) rotate(-70) scale(0.980,1)" x="-0.6 3.02 6.88 11 12.66 16.29 18.66 20.29 23.91 25.75 30.44 34.12 38.41 40.84 44.58 47.93 51.4 53.12 57.13" y="0" font-size="6.83" class="x" fill="#1a1a1a">Logistic Regression</text>
<line x1="273.68" y1="380.6" x2="273.68" y2="383" stroke="#999" stroke-width="0.8"/>
<text transform="translate(252.95,441.07) rotate(-70) scale(0.977,1)" x="-0.71 3.63 7.96 11.67 15.57 19.05 20.53 24.81 28.82 30.74 35.72 39.9 42.3 47.48 51.67 54.22" y="0" font-size="6.83" class="x" fill="#1a1a1a">Bayesian Network</text>
<line x1="296.65" y1="380.6" x2="296.65" y2="383" stroke="#999" stroke-width="0.8"/>
<text transform="translate(289.5,403.76) rotate(-70) scale(0.916,1)" x="0.04 4.16 8.7 13.84" y="0" font-size="6.83" class="x" fill="#1a1a1a">TSNN</text>
<line x1="319.62" y1="380.6" x2="319.62" y2="383" stroke="#999" stroke-width="0.8"/>
<text transform="translate(310.8,408.35) rotate(-70) scale(0.913,1)" x="0.05 4.18 8.63 14.08 19.24" y="0" font-size="6.83" class="x" fill="#1a1a1a">TSGNN</text>
<text transform="translate(49.08,322.6) scale(0.969,1)" x="-0.23 3.05 4.78 8.08 11.43 14.7 16.97 20.75 22.47 25.75 27.46 30.8 34.11" y="0" font-size="5.56" fill="#1a1a1a">0.358 ± 0.045</text>
<text transform="translate(72.05,294.6) scale(0.971,1)" x="-0.23 3.04 4.75 8.07 11.38 14.67 16.92 20.7 22.41 25.68 27.39 30.65 34.04" y="0" font-size="5.56" fill="#1a1a1a">0.445 ± 0.027</text>
<text transform="translate(95.06,302.8) scale(0.973,1)" x="-0.23 3.03 4.74 8.07 11.38 14.64 16.89 20.67 22.37 25.64 27.34 30.68 33.92" y="0" font-size="5.56" fill="#1a1a1a">0.438 ± 0.032</text>
<text transform="translate(117.99,277.8) scale(0.978,1)" x="-0.24 3.01 4.71 7.98 11.31 14.55 16.79 20.55 22.24 25.49 27.18 30.5 33.77" y="0" font-size="5.56" fill="#1a1a1a">0.496 ± 0.035</text>
<text transform="translate(140.93,319.8) scale(0.971,1)" x="-0.23 3.04 4.76 8.07 11.38 14.67 16.93 20.7 22.41 25.69 27.4 30.73 34.02" y="0" font-size="5.56" fill="#1a1a1a">0.371 ± 0.039</text>
<text transform="translate(163.9,273.1) scale(0.971,1)" x="-0.23 3.04 4.74 8.07 11.38 14.67 16.93 20.71 22.42 25.69 27.4 30.74 34.03" y="0" font-size="5.56" fill="#1a1a1a">0.505 ± 0.039</text>
<text transform="translate(186.9,297.2) scale(0.970,1)" x="-0.23 3.04 4.76 8.08 11.42 14.68 16.94 20.72 22.43 25.71 27.42 30.69 34.06" y="0" font-size="5.56" fill="#1a1a1a">0.443 ± 0.025</text>
<text transform="translate(209.89,308.2) scale(0.968,1)" x="-0.23 3.05 4.77 8.1 11.41 14.71 16.98 20.76 22.48 25.76 27.48 30.8 34.12" y="0" font-size="5.56" fill="#1a1a1a">0.401 ± 0.051</text>
<text transform="translate(232.79,322.7) scale(0.973,1)" x="-0.24 3.03 4.75 8.05 11.37 14.63 16.88 20.65 22.36 25.62 27.33 30.63 33.96" y="0" font-size="5.56" fill="#1a1a1a">0.347 ± 0.056</text>
<text transform="translate(255.76,245.8) scale(0.974,1)" x="-0.24 3.03 4.72 8.04 11.29 14.61 16.86 20.63 22.33 25.59 27.29 30.61 33.92" y="0" font-size="5.56" fill="#1a1a1a">0.542 ± 0.080</text>
<text transform="translate(278.73,310.8) scale(0.981,1)" x="-0.25 3 4.7 7.97 11.27 14.51 16.74 20.48 22.17 25.41 27.1 30.39 33.67" y="0" font-size="5.56" fill="#1a1a1a">0.376 ± 0.060</text>
<text transform="translate(301.77,286.3) scale(0.962,1)" x="-0.22 3.08 4.81 8.15 11.5 14.81 17.1 20.9 22.63 25.93 27.66 31 34.35" y="0" font-size="5.56" fill="#1a1a1a">0.455 ± 0.051</text>
<text transform="translate(20.85,330.19) rotate(-90) scale(1.148,1)" x="-0.76 4.36 8.91 13.62 17.91 20.44 23.49 25.72 30.25 32.78 35.7" y="0" font-size="8.27" font-weight="bold" class="b" fill="#000">Sensitivity</text>
<text transform="translate(0.35,233.1) scale(1.044,1)" x="-0.43 3.18 9.11" y="0" font-size="8.92" font-weight="bold" class="b" fill="#000">(c)</text>
</g>
<g id="panel-d">
<rect x="399.41" y="264.36" width="18.38" height="116.24" fill="#FAF2E9" stroke="#8c8c8c" stroke-width="0.9"/>
<rect x="422.38" y="268.91" width="18.38" height="111.69" fill="#FAF2E9" stroke="#8c8c8c" stroke-width="0.9"/>
<rect x="445.35" y="277.18" width="18.38" height="103.42" fill="#FAF2E9" stroke="#8c8c8c" stroke-width="0.9"/>
<rect x="468.32" y="283.39" width="18.38" height="97.21" fill="#FAF2E9" stroke="#8c8c8c" stroke-width="0.9"/>
<rect x="491.29" y="277.6" width="18.38" height="103" fill="#FAF2E9" stroke="#8c8c8c" stroke-width="0.9"/>
<rect x="514.26" y="285.87" width="18.38" height="94.73" fill="#FAF2E9" stroke="#8c8c8c" stroke-width="0.9"/>
<rect x="537.23" y="271.39" width="18.38" height="109.21" fill="#FAF2E9" stroke="#8c8c8c" stroke-width="0.9"/>
<rect x="560.2" y="266.02" width="18.38" height="114.58" fill="#FAF2E9" stroke="#8c8c8c" stroke-width="0.9"/>
<rect x="583.17" y="268.08" width="18.38" height="112.52" fill="#FAF2E9" stroke="#8c8c8c" stroke-width="0.9"/>
<rect x="606.14" y="344.61" width="18.38" height="35.99" fill="#FAF2E9" stroke="#8c8c8c" stroke-width="0.9"/>
<rect x="629.11" y="262.71" width="18.38" height="117.89" fill="#FAF2E9" stroke="#8c8c8c" stroke-width="0.9"/>
<rect x="652.08" y="278.01" width="18.38" height="102.59" fill="#FAF2E9" stroke="#8c8c8c" stroke-width="0.9"/>
<line x1="408.6" y1="258.57" x2="408.6" y2="270.15" stroke="#303030" stroke-width="1.3"/>
<line x1="405.8" y1="258.57" x2="411.4" y2="258.57" stroke="#2a2a2a" stroke-width="1"/>
<line x1="405.8" y1="270.15" x2="411.4" y2="270.15" stroke="#2a2a2a" stroke-width="1"/>
<line x1="431.57" y1="266.02" x2="431.57" y2="271.81" stroke="#303030" stroke-width="1.3"/>
<line x1="428.77" y1="266.02" x2="434.37" y2="266.02" stroke="#2a2a2a" stroke-width="1"/>
<line x1="428.77" y1="271.81" x2="434.37" y2="271.81" stroke="#2a2a2a" stroke-width="1"/>
<line x1="454.54" y1="273.05" x2="454.54" y2="281.32" stroke="#303030" stroke-width="1.3"/>
<line x1="451.74" y1="273.05" x2="457.34" y2="273.05" stroke="#2a2a2a" stroke-width="1"/>
<line x1="451.74" y1="281.32" x2="457.34" y2="281.32" stroke="#2a2a2a" stroke-width="1"/>
<line x1="477.51" y1="280.08" x2="477.51" y2="286.7" stroke="#303030" stroke-width="1.3"/>
<line x1="474.71" y1="280.08" x2="480.31" y2="280.08" stroke="#2a2a2a" stroke-width="1"/>
<line x1="474.71" y1="286.7" x2="480.31" y2="286.7" stroke="#2a2a2a" stroke-width="1"/>
<line x1="500.48" y1="271.39" x2="500.48" y2="283.8" stroke="#303030" stroke-width="1.3"/>
<line x1="497.68" y1="271.39" x2="503.28" y2="271.39" stroke="#2a2a2a" stroke-width="1"/>
<line x1="497.68" y1="283.8" x2="503.28" y2="283.8" stroke="#2a2a2a" stroke-width="1"/>
<line x1="523.45" y1="280.49" x2="523.45" y2="291.25" stroke="#303030" stroke-width="1.3"/>
<line x1="520.65" y1="280.49" x2="526.25" y2="280.49" stroke="#2a2a2a" stroke-width="1"/>
<line x1="520.65" y1="291.25" x2="526.25" y2="291.25" stroke="#2a2a2a" stroke-width="1"/>
<line x1="546.42" y1="268.5" x2="546.42" y2="274.29" stroke="#303030" stroke-width="1.3"/>
<line x1="543.62" y1="268.5" x2="549.22" y2="268.5" stroke="#2a2a2a" stroke-width="1"/>
<line x1="543.62" y1="274.29" x2="549.22" y2="274.29" stroke="#2a2a2a" stroke-width="1"/>
<line x1="569.39" y1="260.22" x2="569.39" y2="271.81" stroke="#303030" stroke-width="1.3"/>
<line x1="566.59" y1="260.22" x2="572.19" y2="260.22" stroke="#2a2a2a" stroke-width="1"/>
<line x1="566.59" y1="271.81" x2="572.19" y2="271.81" stroke="#2a2a2a" stroke-width="1"/>
<line x1="592.36" y1="263.95" x2="592.36" y2="272.22" stroke="#303030" stroke-width="1.3"/>
<line x1="589.56" y1="263.95" x2="595.16" y2="263.95" stroke="#2a2a2a" stroke-width="1"/>
<line x1="589.56" y1="272.22" x2="595.16" y2="272.22" stroke="#2a2a2a" stroke-width="1"/>
<line x1="615.33" y1="321.03" x2="615.33" y2="368.19" stroke="#303030" stroke-width="1.3"/>
<line x1="612.53" y1="321.03" x2="618.13" y2="321.03" stroke="#2a2a2a" stroke-width="1"/>
<line x1="612.53" y1="368.19" x2="618.13" y2="368.19" stroke="#2a2a2a" stroke-width="1"/>
<line x1="638.3" y1="259.4" x2="638.3" y2="266.02" stroke="#303030" stroke-width="1.3"/>
<line x1="635.5" y1="259.4" x2="641.1" y2="259.4" stroke="#2a2a2a" stroke-width="1"/>
<line x1="635.5" y1="266.02" x2="641.1" y2="266.02" stroke="#2a2a2a" stroke-width="1"/>
<line x1="661.27" y1="270.57" x2="661.27" y2="285.46" stroke="#303030" stroke-width="1.3"/>
<line x1="658.47" y1="270.57" x2="664.07" y2="270.57" stroke="#2a2a2a" stroke-width="1"/>
<line x1="658.47" y1="285.46" x2="664.07" y2="285.46" stroke="#2a2a2a" stroke-width="1"/>
<line x1="385.9" y1="233.75" x2="385.9" y2="381.1" stroke="#7a7a7a" stroke-width="1"/>
<line x1="385.4" y1="380.6" x2="684.05" y2="380.6" stroke="#7a7a7a" stroke-width="1"/>
<line x1="383.5" y1="364.47" x2="385.9" y2="364.47" stroke="#999" stroke-width="0.8"/>
<text transform="translate(367.01,367.17) scale(0.979,1)" x="-0.26 3.88 6.08 10.28" y="0" font-size="6.96" class="t" fill="#1a1a1a">0.65</text>
<line x1="383.5" y1="343.78" x2="385.9" y2="343.78" stroke="#999" stroke-width="0.8"/>
<text transform="translate(366.88,346.48) scale(0.980,1)" x="-0.26 3.88 6.07 10.29" y="0" font-size="6.96" class="t" fill="#1a1a1a">0.70</text>
<line x1="383.5" y1="323.1" x2="385.9" y2="323.1" stroke="#999" stroke-width="0.8"/>
<text transform="translate(367.01,325.8) scale(0.965,1)" x="-0.24 3.95 6.19 10.46" y="0" font-size="6.96" class="t" fill="#1a1a1a">0.75</text>
<line x1="383.5" y1="302.42" x2="385.9" y2="302.42" stroke="#999" stroke-width="0.8"/>
<text transform="translate(366.88,305.12) scale(0.988,1)" x="-0.28 3.84 6.01 10.18" y="0" font-size="6.96" class="t" fill="#1a1a1a">0.80</text>
<line x1="383.5" y1="281.73" x2="385.9" y2="281.73" stroke="#999" stroke-width="0.8"/>
<text transform="translate(367.01,284.43) scale(0.974,1)" x="-0.25 3.91 6.12 10.35" y="0" font-size="6.96" class="t" fill="#1a1a1a">0.85</text>
<line x1="383.5" y1="261.05" x2="385.9" y2="261.05" stroke="#999" stroke-width="0.8"/>
<text transform="translate(366.88,263.75) scale(0.994,1)" x="-0.29 3.81 5.93 10.12" y="0" font-size="6.96" class="t" fill="#1a1a1a">0.90</text>
<line x1="383.5" y1="240.37" x2="385.9" y2="240.37" stroke="#999" stroke-width="0.8"/>
<text transform="translate(367.01,243.07) scale(0.979,1)" x="-0.26 3.88 6.05 10.28" y="0" font-size="6.96" class="t" fill="#1a1a1a">0.95</text>
<line x1="408.6" y1="380.6" x2="408.6" y2="383" stroke="#999" stroke-width="0.8"/>
<text transform="translate(393.13,426.64) rotate(-70) scale(0.986,1)" x="-0.63 4.38 8.21 11.89 13.53 17 18.69 22.69 26.67 28.51 32.84 34.31 38.11" y="0" font-size="6.83" class="x" fill="#1a1a1a">Decision Tree</text>
<line x1="431.57" y1="380.6" x2="431.57" y2="383" stroke="#999" stroke-width="0.8"/>
<text transform="translate(414.16,431.96) rotate(-70) scale(0.986,1)" x="-0.77 3.64 7.74 11.75 15.77 19.91 25.93 27.63 31.63 35.56 37.97 41.69 45.31" y="0" font-size="6.83" class="x" fill="#1a1a1a">Random Forest</text>
<line x1="454.54" y1="380.6" x2="454.54" y2="383" stroke="#999" stroke-width="0.8"/>
<text transform="translate(448.74,400.06) rotate(-70) scale(0.895,1)" x="-0.46 4.14 9.03" y="0" font-size="6.83" class="x" fill="#1a1a1a">SVM</text>
<line x1="477.51" y1="380.6" x2="477.51" y2="383" stroke="#999" stroke-width="0.8"/>
<text transform="translate(471.85,399.69) rotate(-70) scale(0.921,1)" x="-0.54 3.92 9.04" y="0" font-size="6.83" class="x" fill="#1a1a1a">KNN</text>
<line x1="500.48" y1="380.6" x2="500.48" y2="383" stroke="#999" stroke-width="0.8"/>
<text transform="translate(486,423.9) rotate(-70) scale(0.929,1)" x="-0.59 4.35 8.77 10.77 14.68 18.79 20.85 25.4 29.94 33.85 37.94" y="0" font-size="6.83" class="x" fill="#1a1a1a">Naive Bayes</text>
<line x1="523.45" y1="380.6" x2="523.45" y2="383" stroke="#999" stroke-width="0.8"/>
<text transform="translate(511.98,415.65) rotate(-70) scale(0.981,1)" x="-0.13 4.45 8.14 12.42 16.39 20.32 24.2 27.83" y="0" font-size="6.83" class="x" fill="#1a1a1a">Adaboost</text>
<line x1="546.42" y1="380.6" x2="546.42" y2="383" stroke="#999" stroke-width="0.8"/>
<text transform="translate(528.99,432.02) rotate(-70) scale(1.006,1)" x="-0.57 4.78 6.87 10.99 15.03 16.7 20.61 24.75 26.99 28.79 33.26 37.09 40.88 44.44" y="0" font-size="6.83" class="x" fill="#1a1a1a">Gradient Boost</text>
<line x1="569.39" y1="380.6" x2="569.39" y2="383" stroke="#999" stroke-width="0.8"/>
<text transform="translate(563.87,399.3) rotate(-70) scale(0.900,1)" x="-0.5 5.58 9.23" y="0" font-size="6.83" class="x" fill="#1a1a1a">MLP</text>
<line x1="592.36" y1="380.6" x2="592.36" y2="383" stroke="#999" stroke-width="0.8"/>
<text transform="translate(570.62,443.86) rotate(-70) scale(0.980,1)" x="-0.6 3.02 6.88 11 12.66 16.29 18.66 20.29 23.91 25.75 30.44 34.12 38.41 40.84 44.58 47.93 51.4 53.12 57.13" y="0" font-size="6.83" class="x" fill="#1a1a1a">Logistic Regression</text>
<line x1="615.33" y1="380.6" x2="615.33" y2="383" stroke="#999" stroke-width="0.8"/>
<text transform="translate(594.6,441.07) rotate(-70) scale(0.977,1)" x="-0.71 3.63 7.96 11.67 15.57 19.05 20.53 24.81 28.82 30.74 35.72 39.9 42.3 47.48 51.67 54.22" y="0" font-size="6.83" class="x" fill="#1a1a1a">Bayesian Network</text>
<line x1="638.3" y1="380.6" x2="638.3" y2="383" stroke="#999" stroke-width="0.8"/>
<text transform="translate(631.15,403.76) rotate(-70) scale(0.916,1)" x="0.04 4.16 8.7 13.84" y="0" font-size="6.83" class="x" fill="#1a1a1a">TSNN</text>
<line x1="661.27" y1="380.6" x2="661.27" y2="383" stroke="#999" stroke-width="0.8"/>
<text transform="translate(652.45,408.35) rotate(-70) scale(0.913,1)" x="0.05 4.18 8.63 14.08 19.24" y="0" font-size="6.83" class="x" fill="#1a1a1a">TSGNN</text>
<text transform="translate(390.66,249) scale(0.978,1)" x="-0.24 3.01 4.71 7.99 11.25 14.56 16.8 20.56 22.25 25.5 27.2 30.48 33.8" y="0" font-size="5.56" fill="#1a1a1a">0.892 ± 0.014</text>
<text transform="translate(413.7,256.5) scale(0.976,1)" x="-0.24 3.02 4.72 8.02 11.3 14.58 16.82 20.58 22.28 25.53 27.23 30.53 33.84" y="0" font-size="5.56" fill="#1a1a1a">0.881 ± 0.007</text>
<text transform="translate(436.62,263.7) scale(0.977,1)" x="-0.24 3.02 4.72 8.02 11.3 14.58 16.82 20.58 22.27 25.53 27.23 30.51 33.83" y="0" font-size="5.56" fill="#1a1a1a">0.861 ± 0.010</text>
<text transform="translate(459.6,271) scale(0.985,1)" x="-0.25 2.98 4.66 7.93 11.21 14.44 16.66 20.39 22.06 25.3 26.97 30.24 33.52" y="0" font-size="5.56" fill="#1a1a1a">0.846 ± 0.008</text>
<text transform="translate(482.61,261.6) scale(0.976,1)" x="-0.24 3.02 4.73 8.03 11.33 14.59 16.84 20.6 22.3 25.56 27.26 30.54 33.86" y="0" font-size="5.56" fill="#1a1a1a">0.860 ± 0.015</text>
<text transform="translate(505.57,271.2) scale(0.975,1)" x="-0.24 3.03 4.73 8.04 11.34 14.61 16.85 20.62 22.32 25.58 27.28 30.57 33.92" y="0" font-size="5.56" fill="#1a1a1a">0.840 ± 0.013</text>
<text transform="translate(528.55,259.3) scale(0.973,1)" x="-0.23 3.03 4.75 8.06 11.36 14.64 16.9 20.67 22.37 25.64 27.35 30.66 33.98" y="0" font-size="5.56" fill="#1a1a1a">0.875 ± 0.007</text>
<text transform="translate(551.45,250) scale(0.979,1)" x="-0.24 3.01 4.7 8 11.29 14.54 16.77 20.52 22.21 25.46 27.15 30.43 33.74" y="0" font-size="5.56" fill="#1a1a1a">0.888 ± 0.014</text>
<text transform="translate(574.44,255.6) scale(0.975,1)" x="-0.24 3.02 4.73 8.03 11.35 14.59 16.84 20.6 22.3 25.56 27.26 30.55 33.87" y="0" font-size="5.56" fill="#1a1a1a">0.883 ± 0.010</text>
<text transform="translate(597.46,312.1) scale(0.980,1)" x="-0.24 3.01 4.7 7.97 11.28 14.53 16.76 20.51 22.19 25.44 27.13 30.41 33.72" y="0" font-size="5.56" fill="#1a1a1a">0.698 ± 0.057</text>
<text transform="translate(620.39,250) scale(0.988,1)" x="-0.26 2.97 4.65 7.89 11.18 14.4 16.61 20.33 22 25.23 26.89 30.16 33.43" y="0" font-size="5.56" fill="#1a1a1a">0.896 ± 0.008</text>
<text transform="translate(643.36,261.2) scale(0.976,1)" x="-0.24 3.02 4.72 8.01 11.31 14.58 16.83 20.59 22.28 25.54 27.24 30.53 33.86" y="0" font-size="5.56" fill="#1a1a1a">0.859 ± 0.018</text>
<text transform="translate(362.5,329.66) rotate(-90) scale(1.125,1)" x="-0.72 4.48 9.46 13.78 18.31 20.8 23.7 25.41 29.94 32.52 35.52" y="0" font-size="8.27" font-weight="bold" class="b" fill="#000">Specificity</text>
<text transform="translate(342,233.1) scale(1.103,1)" x="-0.5 3.25 9.57" y="0" font-size="8.92" font-weight="bold" class="b" fill="#000">(d)</text>
</g>
</svg></body></html>
